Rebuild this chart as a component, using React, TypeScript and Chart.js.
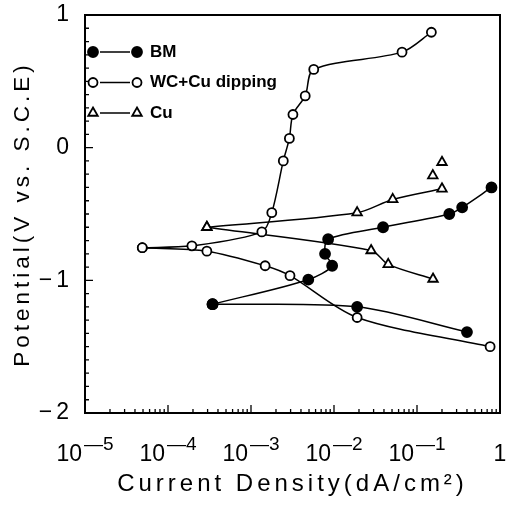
import React, { useEffect, useRef } from 'react';
import { Chart, registerables } from 'chart.js';

Chart.register(...registerables);

const FONT = '"Liberation Sans", Arial, sans-serif';

const seriesNames = ['BM', 'WC+Cu dipping', 'Cu'];

// BM (filled circles)
const bmAnodicX = [3.44e-4, 4.9e-3, 9.5e-3, 7.8e-3, 8.5e-3, 0.039, 0.245, 0.35, 0.79];
const bmAnodicY = [-1.18, -0.995, -0.89, -0.8, -0.69, -0.6, -0.5, -0.45, -0.3];
const bmCathodicX = [3.44e-4, 0.019, 0.4];
const bmCathodicY = [-1.18, -1.2, -1.39];

// WC+Cu dipping (open circles)
const wcAnodicX = [4.9e-5, 1.94e-4, 1.35e-3, 1.78e-3, 2.45e-3, 2.9e-3, 3.2e-3, 4.5e-3, 5.7e-3, 0.066, 0.149];
const wcAnodicY = [-0.754, -0.74, -0.635, -0.49, -0.1, 0.07, 0.25, 0.39, 0.59, 0.72, 0.87];
const wcCathodicX = [4.9e-5, 2.94e-4, 1.48e-3, 2.95e-3, 0.019, 0.76];
const wcCathodicY = [-0.754, -0.78, -0.89, -0.965, -1.28, -1.5];

// Cu (open triangles)
const cuAnodicX = [2.94e-4, 0.019, 0.051, 0.2];
const cuAnodicY = [-0.6, -0.49, -0.39, -0.31];
const cuCathodicX = [2.94e-4, 0.028, 0.045, 0.156];
const cuCathodicY = [-0.6, -0.775, -0.88, -0.99];
const cuExtraX = [0.155, 0.2];
const cuExtraY = [-0.21, -0.11];

const xTickExponents = [-5, -4, -3, -2, -1, 0];
const yTickValues = [-2, -1, 0, 1];

const pts = (xs: number[], ys: number[]) => xs.map((x, i) => ({ x, y: ys[i] }));

type Kind = 'filled' | 'open' | 'tri';

const styleFor = (kind: Kind) => {
  if (kind === 'filled') return { pointStyle: 'circle', pointRadius: 5, pointBackgroundColor: '#000' };
  if (kind === 'open') return { pointStyle: 'circle', pointRadius: 4.5, pointBackgroundColor: '#fff' };
  return { pointStyle: 'triangle', pointRadius: 5.5, pointBackgroundColor: '#fff' };
};

const makeDs = (label: string, kind: Kind, xs: number[], ys: number[], showLine = true) => ({
  label,
  data: pts(xs, ys),
  borderColor: '#000',
  borderWidth: 1.5,
  pointBorderColor: '#000',
  pointBorderWidth: 1.8,
  tension: 0.3,
  showLine,
  ...styleFor(kind),
});

function drawMarker(ctx: CanvasRenderingContext2D, kind: Kind, x: number, y: number) {
  ctx.beginPath();
  if (kind === 'tri') {
    const r = 5.5;
    ctx.moveTo(x, y - r);
    ctx.lineTo(x + r * Math.sin(Math.PI / 3), y + r * 0.5);
    ctx.lineTo(x - r * Math.sin(Math.PI / 3), y + r * 0.5);
    ctx.closePath();
  } else {
    ctx.arc(x, y, kind === 'filled' ? 5 : 4.5, 0, Math.PI * 2);
  }
  ctx.fillStyle = kind === 'filled' ? '#000' : '#fff';
  ctx.fill();
  ctx.lineWidth = 1.8;
  ctx.strokeStyle = '#000';
  ctx.stroke();
}

const legendKinds: Kind[] = ['filled', 'open', 'tri'];

const framePlugin = {
  id: 'frameTicksLegend',
  beforeDraw(chart: any) {
    chart.ctx.letterSpacing = '4px';
  },
  afterDraw(chart: any) {
    const { ctx, chartArea: a, scales } = chart;
    const xs = scales.x;
    const ys = scales.y;
    ctx.save();
    ctx.letterSpacing = '0px';
    ctx.strokeStyle = '#000';
    ctx.lineWidth = 2;
    ctx.strokeRect(a.left, a.top, a.right - a.left, a.bottom - a.top);

    // inward ticks on left axis
    ctx.lineWidth = 1.3;
    ctx.beginPath();
    for (let k = -20; k <= 10; k++) {
      const v = k / 10;
      const py = ys.getPixelForValue(v);
      const len = k % 10 === 0 ? 8 : 4;
      ctx.moveTo(a.left, py);
      ctx.lineTo(a.left + len, py);
    }
    // inward ticks on bottom axis
    for (let d = -5; d <= -1; d++) {
      for (let m = 1; m <= 9; m++) {
        const px = xs.getPixelForValue(m * Math.pow(10, d));
        const len = m === 1 ? 8 : 4;
        ctx.moveTo(px, a.bottom);
        ctx.lineTo(px, a.bottom - len);
      }
    }
    ctx.stroke();

    // x tick labels (10^n)
    ctx.fillStyle = '#000';
    ctx.textBaseline = 'alphabetic';
    ctx.textAlign = 'left';
    for (const e of xTickExponents) {
      const px = xs.getPixelForValue(Math.pow(10, e));
      if (e === 0) {
        ctx.font = `23px ${FONT}`;
        const w = ctx.measureText('1').width;
        ctx.fillText('1', px - w / 2, 461);
        continue;
      }
      ctx.font = `23px ${FONT}`;
      const wb = ctx.measureText('10').width;
      const exp = '\u2014' + String(-e);
      ctx.font = `19px ${FONT}`;
      const we = ctx.measureText(exp).width;
      const x0 = px - (wb + 2 + we) / 2;
      ctx.font = `23px ${FONT}`;
      ctx.fillText('10', x0, 461);
      ctx.font = `19px ${FONT}`;
      ctx.fillText(exp, x0 + wb + 2, 450);
    }

    // legend
    ctx.textBaseline = 'middle';
    ctx.font = `bold 17px ${FONT}`;
    seriesNames.forEach((name, i) => {
      const y = a.top + 37 + i * 30.5;
      const x1 = a.left + 8;
      const x2 = a.left + 52;
      ctx.beginPath();
      ctx.lineWidth = 1.5;
      ctx.moveTo(x1 + 7, y);
      ctx.lineTo(x2 - 7, y);
      ctx.stroke();
      drawMarker(ctx, legendKinds[i], x1, y);
      drawMarker(ctx, legendKinds[i], x2, y);
      ctx.fillStyle = '#000';
      ctx.fillText(name, a.left + 65, y);
    });
    ctx.restore();
  },
};

export default function App() {
  const ref = useRef<HTMLCanvasElement>(null);
  useEffect(() => {
    if (!ref.current) return;
    const chart = new Chart(ref.current, {
      type: 'scatter',
      data: {
        datasets: [
          makeDs(seriesNames[0], 'filled', bmAnodicX, bmAnodicY),
          makeDs(seriesNames[1], 'open', wcAnodicX, wcAnodicY),
          makeDs(seriesNames[2], 'tri', cuAnodicX, cuAnodicY),
          makeDs(seriesNames[0] + ' cathodic', 'filled', bmCathodicX, bmCathodicY),
          makeDs(seriesNames[1] + ' cathodic', 'open', wcCathodicX, wcCathodicY),
          makeDs(seriesNames[2] + ' cathodic', 'tri', cuCathodicX, cuCathodicY),
          makeDs(seriesNames[2] + ' extra', 'tri', cuExtraX, cuExtraY, false),
        ] as any,
      },
      options: {
        animation: false,
        responsive: false,
        maintainAspectRatio: false,
        layout: { padding: { top: 15, right: 10, left: 0, bottom: 0 } },
        plugins: { legend: { display: false }, tooltip: { enabled: false } },
        scales: {
          x: {
            type: 'logarithmic',
            min: 1e-5,
            max: 1,
            grid: { display: false, drawTicks: false },
            border: { display: false },
            ticks: { display: false },
            title: {
              display: true,
              text: 'Current Density(dA/cm\u00B2)',
              color: '#000',
              font: { family: FONT, size: 24 },
              padding: { top: 0, bottom: 18 },
            },
            afterFit: (s: any) => {
              s.height = 104;
              s.paddingLeft = 0;
              s.paddingRight = 0;
            },
          },
          y: {
            type: 'linear',
            min: -2,
            max: 1,
            afterBuildTicks: (s: any) => {
              s.ticks = yTickValues.map((v) => ({ value: v }));
            },
            ticks: {
              color: '#000',
              padding: 12,
              font: { family: FONT, size: 23 },
              callback: (v: any) => String(v).replace('-', '\u2212'),
            },
            grid: { display: false, drawTicks: false },
            border: { display: false },
            title: {
              display: true,
              text: 'Potential(V vs. S.C.E)',
              color: '#000',
              font: { family: FONT, size: 22.5 },
              padding: { top: 9, bottom: 0 },
            },
            afterFit: (s: any) => {
              s.width = 85;
              s.paddingTop = 0;
              s.paddingBottom = 0;
            },
          },
        },
      } as any,
      plugins: [framePlugin],
    });
    return () => chart.destroy();
  }, []);
  return (
    <div style={{ position: 'fixed', left: 0, top: 0, width: 510, height: 517, background: '#fff' }}>
      <canvas ref={ref} width={510} height={517} />
    </div>
  );
}
